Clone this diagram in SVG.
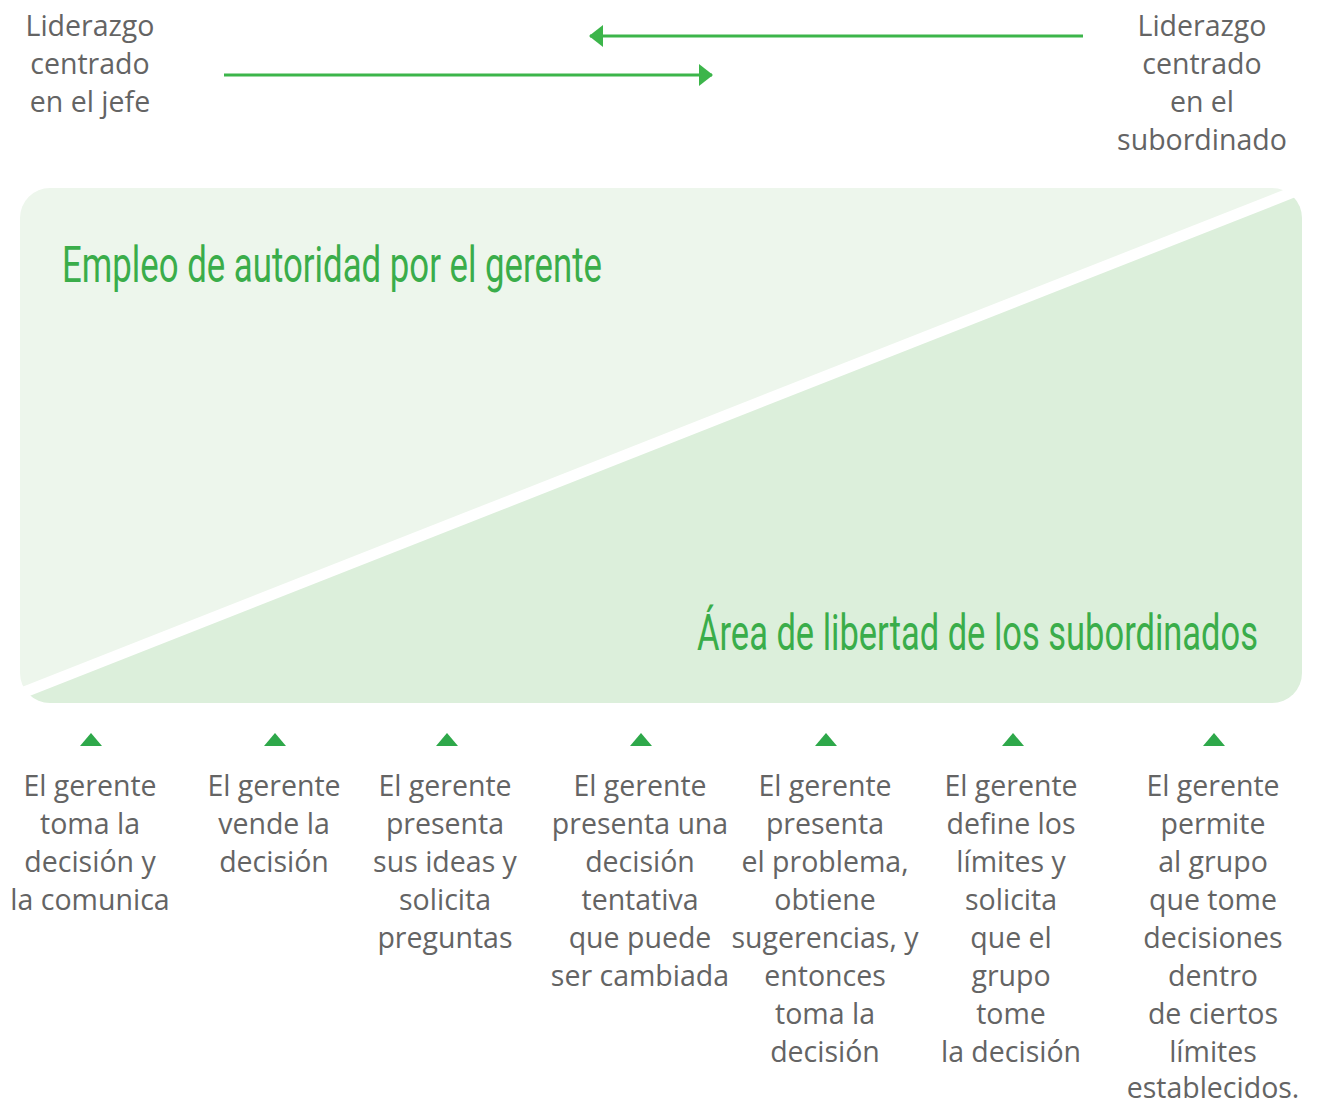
<svg xmlns="http://www.w3.org/2000/svg" width="1317" height="1105" viewBox="0 0 1317 1105">
  <style>
    .lbl { font-family: "Open Sans", "Lato", "Liberation Sans", sans-serif; font-size: 28.5px; fill: #646464; text-anchor: middle; }
    .ttl { font-family: Roboto, "Liberation Sans", sans-serif; font-size: 34px; fill: #3aad4a; }
    .tri { fill: #2ea84a; }
    .arr { stroke: #3cb54a; stroke-width: 3; fill: none; }
  </style>
  <defs>
    <clipPath id="box">
      <rect x="20" y="188" width="1282" height="515" rx="30" ry="30"/>
    </clipPath>
    <marker id="head" viewBox="0 0 14 22" refX="13" refY="11" markerWidth="14" markerHeight="22" markerUnits="userSpaceOnUse" orient="auto">
      <path d="M0,0 L14,11 L0,22 Z" fill="#3cb54a"/>
    </marker>
  </defs>

  <rect width="1317" height="1105" fill="#ffffff"/>

  <g id="area" clip-path="url(#box)">
    <polygon points="0,0 1317,0 1317,176.7 0,695.6" fill="#edf6ec"/>
    <polygon points="0,707.6 1317,188.7 1317,1105 0,1105" fill="#dcefdb"/>
  </g>

  <g id="connectors">
    <line class="arr" x1="1083" y1="36" x2="590" y2="36" marker-end="url(#head)"/>
    <line class="arr" x1="224" y1="75" x2="712" y2="75" marker-end="url(#head)"/>
  </g>

  <g id="lider-jefe">
    <text class="lbl" x="90" y="36">Liderazgo</text>
    <text class="lbl" x="90" y="74">centrado</text>
    <text class="lbl" x="90" y="112">en el jefe</text>
  </g>
  <g id="lider-subordinado">
    <text class="lbl" x="1202" y="36">Liderazgo</text>
    <text class="lbl" x="1202" y="74">centrado</text>
    <text class="lbl" x="1202" y="112">en el</text>
    <text class="lbl" x="1202" y="150">subordinado</text>
  </g>

  <g id="titulo-autoridad" transform="translate(62,282) scale(1,1.47)">
    <text class="ttl" x="0" y="0" textLength="540" lengthAdjust="spacingAndGlyphs">Empleo de autoridad por el gerente</text>
  </g>
  <g id="titulo-libertad" transform="translate(697,650) scale(1,1.47)">
    <text class="ttl" x="0" y="0" textLength="561" lengthAdjust="spacingAndGlyphs">Área de libertad de los subordinados</text>
  </g>

  <g id="col1">
    <polygon class="tri" points="80,746 91,733 102,746"/>
    <text class="lbl" x="90" y="796">El gerente</text>
    <text class="lbl" x="90" y="834">toma la</text>
    <text class="lbl" x="90" y="872">decisión y</text>
    <text class="lbl" x="90" y="910">la comunica</text>
  </g>
  <g id="col2">
    <polygon class="tri" points="264,746 275,733 286,746"/>
    <text class="lbl" x="274" y="796">El gerente</text>
    <text class="lbl" x="274" y="834">vende la</text>
    <text class="lbl" x="274" y="872">decisión</text>
  </g>
  <g id="col3">
    <polygon class="tri" points="436,746 447,733 458,746"/>
    <text class="lbl" x="445" y="796">El gerente</text>
    <text class="lbl" x="445" y="834">presenta</text>
    <text class="lbl" x="445" y="872">sus ideas y</text>
    <text class="lbl" x="445" y="910">solicita</text>
    <text class="lbl" x="445" y="948">preguntas</text>
  </g>
  <g id="col4">
    <polygon class="tri" points="630,746 641,733 652,746"/>
    <text class="lbl" x="640" y="796">El gerente</text>
    <text class="lbl" x="640" y="834">presenta una</text>
    <text class="lbl" x="640" y="872">decisión</text>
    <text class="lbl" x="640" y="910">tentativa</text>
    <text class="lbl" x="640" y="948">que puede</text>
    <text class="lbl" x="640" y="986">ser cambiada</text>
  </g>
  <g id="col5">
    <polygon class="tri" points="815,746 826,733 837,746"/>
    <text class="lbl" x="825" y="796">El gerente</text>
    <text class="lbl" x="825" y="834">presenta</text>
    <text class="lbl" x="825" y="872">el problema,</text>
    <text class="lbl" x="825" y="910">obtiene</text>
    <text class="lbl" x="825" y="948">sugerencias, y</text>
    <text class="lbl" x="825" y="986">entonces</text>
    <text class="lbl" x="825" y="1024">toma la</text>
    <text class="lbl" x="825" y="1062">decisión</text>
  </g>
  <g id="col6">
    <polygon class="tri" points="1002,746 1013,733 1024,746"/>
    <text class="lbl" x="1011" y="796">El gerente</text>
    <text class="lbl" x="1011" y="834">define los</text>
    <text class="lbl" x="1011" y="872">límites y</text>
    <text class="lbl" x="1011" y="910">solicita</text>
    <text class="lbl" x="1011" y="948">que el</text>
    <text class="lbl" x="1011" y="986">grupo</text>
    <text class="lbl" x="1011" y="1024">tome</text>
    <text class="lbl" x="1011" y="1062">la decisión</text>
  </g>
  <g id="col7">
    <polygon class="tri" points="1203,746 1214,733 1225,746"/>
    <text class="lbl" x="1213" y="796">El gerente</text>
    <text class="lbl" x="1213" y="834">permite</text>
    <text class="lbl" x="1213" y="872">al grupo</text>
    <text class="lbl" x="1213" y="910">que tome</text>
    <text class="lbl" x="1213" y="948">decisiones</text>
    <text class="lbl" x="1213" y="986">dentro</text>
    <text class="lbl" x="1213" y="1024">de ciertos</text>
    <text class="lbl" x="1213" y="1062">límites</text>
    <text class="lbl" x="1213" y="1098">establecidos.</text>
  </g>
</svg>
